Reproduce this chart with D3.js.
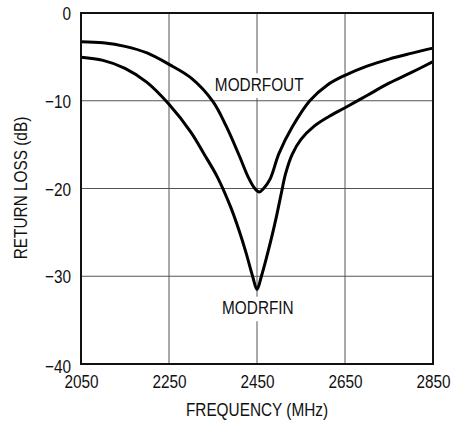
<!DOCTYPE html>
<html>
<head>
<meta charset="utf-8">
<script src="https://cdn.jsdelivr.net/npm/d3@7"></script>
<style>
  html, body { margin: 0; padding: 0; background: #fff; }
  svg { display: block; }
  text { font-family: "Liberation Sans", Arial, sans-serif; fill: #111; }
</style>
</head>
<body>
<svg id="chart" width="471" height="421"></svg>
<script>
// ---- data ----
const xTicks = [2050, 2250, 2450, 2650, 2850];
const yTicks = [0, -10, -20, -30, -40];

const outFreq = [2050, 2100, 2150, 2200, 2250, 2300, 2350, 2380, 2410, 2430, 2445, 2455, 2465, 2480, 2500, 2530, 2570, 2610, 2650, 2700, 2750, 2800, 2850];
const outLoss = [-3.27, -3.4, -3.8, -4.55, -5.85, -7.4, -10.1, -12.9, -16.3, -18.7, -20.0, -20.4, -20.0, -18.9, -16.0, -13.0, -10.0, -8.2, -7.1, -6.05, -5.25, -4.6, -4.0];

const inFreq = [2050, 2100, 2150, 2200, 2250, 2300, 2330, 2360, 2390, 2410, 2425, 2440, 2450, 2460, 2472, 2485, 2495, 2505, 2515, 2530, 2550, 2580, 2610, 2650, 2700, 2750, 2800, 2850];
const inLoss = [-5.05, -5.4, -6.3, -7.9, -10.4, -13.6, -16.1, -18.7, -22.1, -24.9, -27.3, -30.0, -31.5, -30.0, -27.8, -25.2, -23.0, -20.6, -18.3, -16.1, -14.4, -12.9, -11.9, -10.8, -9.4, -8.0, -6.8, -5.55];

const seriesNames = ["MODRFOUT", "MODRFIN"];
const xTitle = "FREQUENCY (MHz)";
const yTitle = "RETURN LOSS (dB)";
const tickFormat = d => d < 0 ? "\u2212" + Math.abs(d) : String(d);

// ---- layout ----
const L = 81, R = 433, T = 13, B = 364;
const svg = d3.select("#chart");
const x = d3.scaleLinear().domain([2050, 2850]).range([L, R]);
const y = d3.scaleLinear().domain([0, -40]).range([T, B]);
const FS = 18.5;   // font size
const K = 0.83;    // horizontal condensing (Helvetica Condensed look)

function condensedText(parent, px, py, str, anchor, rotate, bg) {
  const g = parent.append("g")
    .attr("transform", `translate(${px},${py})` + (rotate ? ` rotate(${rotate})` : "") + ` scale(${K},1)`);
  const t = g.append("text").attr("x", 0).attr("y", 0)
    .attr("text-anchor", anchor).attr("font-size", FS).text(str);
  if (bg) {
    const bb = t.node().getBBox();
    g.insert("rect", "text").attr("x", bb.x - 3).attr("y", bb.y - 1)
      .attr("width", bb.width + 6).attr("height", bb.height + 4).attr("fill", "#fff");
  }
  return g;
}

// grid
svg.append("g").selectAll("line").data(xTicks.slice(1, -1)).join("line")
  .attr("x1", d => x(d)).attr("x2", d => x(d)).attr("y1", T).attr("y2", B)
  .attr("stroke", "#555").attr("stroke-width", 1);
svg.append("g").selectAll("line").data(yTicks.slice(1, -1)).join("line")
  .attr("x1", L).attr("x2", R).attr("y1", d => y(d)).attr("y2", d => y(d))
  .attr("stroke", "#555").attr("stroke-width", 1);

// series labels (with white backing that hides the grid line)
const lg = svg.append("g");
condensedText(lg, x(2455), y(-8.85), seriesNames[0], "middle", 0, true);
condensedText(lg, x(2452), y(-34.3), seriesNames[1], "middle", 0, true);

// curves
const line = d3.line().x(d => x(d[0])).y(d => y(d[1])).curve(d3.curveCatmullRom.alpha(0.5));
svg.append("path").datum(d3.zip(outFreq, outLoss)).attr("d", line)
  .attr("fill", "none").attr("stroke", "#000").attr("stroke-width", 3);
svg.append("path").datum(d3.zip(inFreq, inLoss)).attr("d", line)
  .attr("fill", "none").attr("stroke", "#000").attr("stroke-width", 3);

// frame
svg.append("rect").attr("x", L).attr("y", T).attr("width", R - L).attr("height", B - T)
  .attr("fill", "none").attr("stroke", "#111").attr("stroke-width", 2);

// axes (labels only)
const xa = svg.append("g").attr("transform", `translate(0,${B})`)
  .call(d3.axisBottom(x).tickValues(xTicks).tickSize(0).tickPadding(0).tickFormat(d3.format("d")));
xa.select(".domain").remove();
xa.selectAll("text").attr("font-size", FS).attr("dy", null).attr("y", 24.5)
  .attr("font-family", null).attr("fill", "#111").attr("transform", `scale(${K},1)`);

const ya = svg.append("g").attr("transform", `translate(${L},0)`)
  .call(d3.axisLeft(y).tickValues(yTicks).tickSize(0).tickPadding(10).tickFormat(tickFormat));
ya.select(".domain").remove();
ya.selectAll("text").attr("font-size", FS).attr("font-family", null).attr("fill", "#111")
  .attr("dy", "0.36em").attr("x", -10 / K).attr("transform", `scale(${K},1)`);
ya.selectAll(".tick").filter(d => d === -40).select("text").attr("dy", "0.46em");

// titles
condensedText(svg, 257, 416, xTitle, "middle", 0, false);
condensedText(svg, 27, 188, yTitle, "middle", -90, false);
</script>
</body>
</html>
